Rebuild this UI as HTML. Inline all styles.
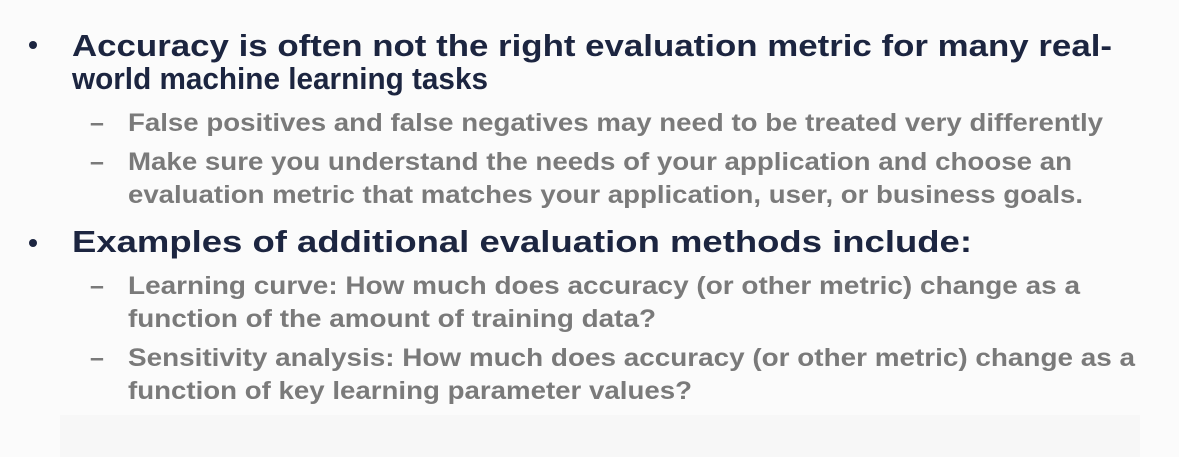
<!DOCTYPE html>
<html><head><meta charset="utf-8"><style>
html,body{margin:0;padding:0;background:#fbfbfb;width:1179px;height:457px;overflow:hidden}
svg{display:block}
.m{font-family:"Liberation Sans",sans-serif;font-weight:bold;font-size:31px;fill:#1c2540}
.s{font-family:"Liberation Sans",sans-serif;font-weight:bold;font-size:25px;fill:#7a7a7a}
</style></head><body>
<svg width="1179" height="457" viewBox="0 0 1179 457">
<rect x="0" y="0" width="1179" height="457" fill="#fbfbfb"/>
<rect x="60" y="415" width="1080" height="42" fill="#f7f7f7"/>
<circle cx="33" cy="45" r="4" fill="#1c2540"/>
<text class="m" x="72" y="56" textLength="1040" lengthAdjust="spacingAndGlyphs">Accuracy is often not the right evaluation metric for many real-</text>
<text class="m" x="72" y="89" textLength="416" lengthAdjust="spacingAndGlyphs">world machine learning tasks</text>
<text class="s" x="90" y="131">–</text>
<text class="s" x="128" y="131" textLength="975" lengthAdjust="spacingAndGlyphs">False positives and false negatives may need to be treated very differently</text>
<text class="s" x="90" y="170">–</text>
<text class="s" x="128" y="170" textLength="944" lengthAdjust="spacingAndGlyphs">Make sure you understand the needs of your application and choose an</text>
<text class="s" x="128" y="203" textLength="955" lengthAdjust="spacingAndGlyphs">evaluation metric that matches your application, user, or business goals.</text>
<circle cx="33" cy="243" r="4" fill="#1c2540"/>
<text class="m" x="72" y="252" textLength="900" lengthAdjust="spacingAndGlyphs">Examples of additional evaluation methods include:</text>
<text class="s" x="90" y="294">–</text>
<text class="s" x="128" y="294" textLength="952" lengthAdjust="spacingAndGlyphs">Learning curve: How much does accuracy (or other metric) change as a</text>
<text class="s" x="128" y="327" textLength="528" lengthAdjust="spacingAndGlyphs">function of the amount of training data?</text>
<text class="s" x="90" y="366">–</text>
<text class="s" x="128" y="366" textLength="1007" lengthAdjust="spacingAndGlyphs">Sensitivity analysis:  How much does accuracy (or other metric) change as a</text>
<text class="s" x="128" y="399" textLength="564" lengthAdjust="spacingAndGlyphs">function of key learning parameter values?</text>
</svg>
</body></html>
